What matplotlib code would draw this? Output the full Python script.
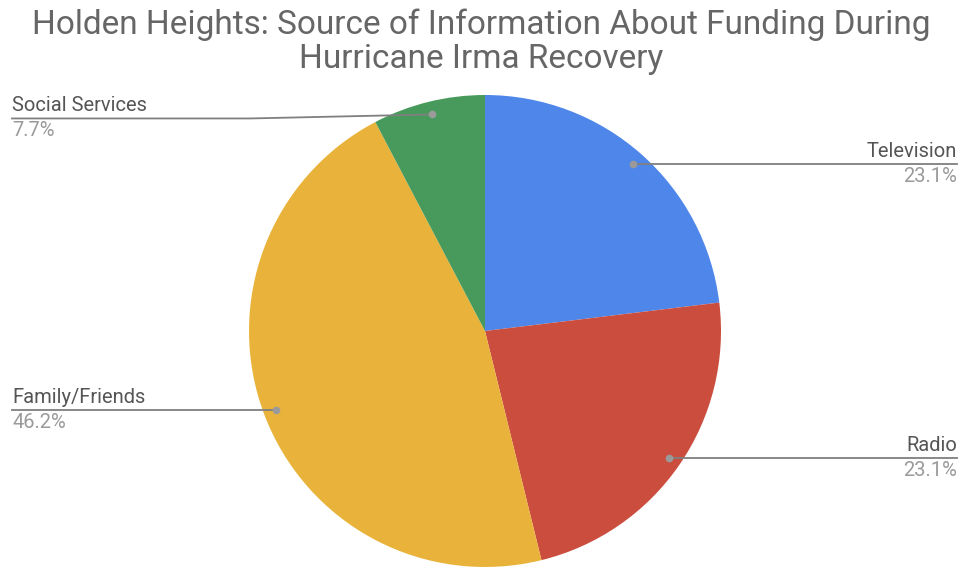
import numpy as np
import matplotlib.pyplot as plt

plt.rcParams['font.family'] = ['Roboto', 'DejaVu Sans']

labels = ["Television", "Radio", "Family/Friends", "Social Services"]
shares = [23.1, 23.1, 46.2, 7.7]
colors = ["#4e86ea", "#cb4d3e", "#e9b33b", "#479a5b"]
# which side each label sits on
sides = ["right", "right", "left", "left"]

W, H = 963, 569
fig = plt.figure(figsize=(W / 100, H / 100), dpi=100)
ax = fig.add_axes([0, 0, 1, 1])

cx, cy, R = 485, H - 331, 236
wedges, _ = ax.pie(shares, colors=colors, startangle=90, counterclock=False,
                   center=(cx, cy), radius=R, frame=True,
                   wedgeprops=dict(linewidth=0))
ax.set_xlim(0, W)
ax.set_ylim(0, H)
ax.set_aspect("equal")
ax.axis("off")

line_col = "#7f7f7f"
for w, lab, val, side in zip(wedges, labels, shares, sides):
    mid = np.deg2rad((w.theta1 + w.theta2) / 2)
    dx, dy = cx + 0.945 * R * np.cos(mid), cy + 0.945 * R * np.sin(mid)
    ly = dy
    if lab == "Social Services":
        ly = dy - 4
    if side == "right":
        xe, ha = 957, "right"
        ax.plot([dx, xe], [dy, ly], color=line_col, lw=1.3)
    else:
        xe, ha = 12, "left"
        xk = 250 if ly != dy else dx
        ax.plot([xe, xk, dx], [ly, ly, dy], color=line_col, lw=1.3)
    ax.plot(dx, dy, "o", color="#9a9a9a", ms=4.5, zorder=5)
    ax.text(xe, ly + 3, lab, ha=ha, va="bottom", fontsize=14.5, color="#555555")
    ax.text(xe, ly - 3, f"{val:.1f}%", ha=ha, va="top", fontsize=14.5, color="#9a9a9a")

ax.text(W / 2, H - 9, "Holden Heights: Source of Information About Funding During\nHurricane Irma Recovery",
        ha="center", va="top", fontsize=24, color="#666666", linespacing=1.08)

fig.savefig("out.png", dpi=100)
